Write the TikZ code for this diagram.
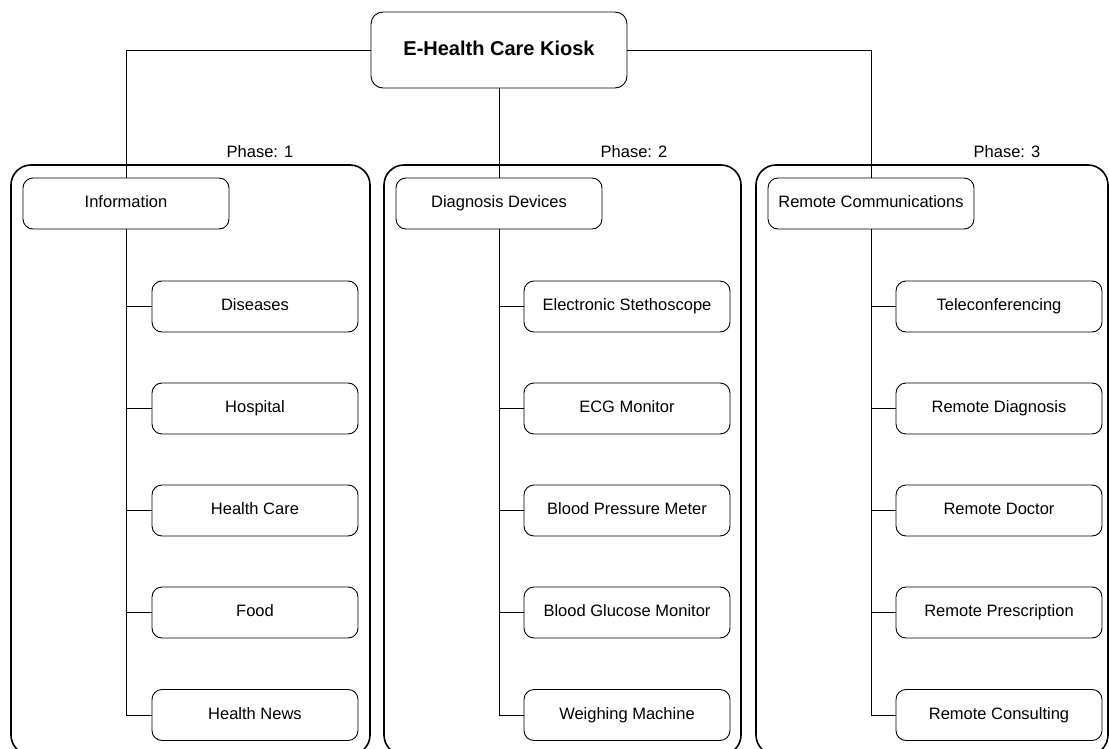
\documentclass[tikz,border=0pt]{standalone}
\usepackage{fontspec}
\setmainfont{Liberation Sans}
\usetikzlibrary{positioning}

\begin{document}
\begin{tikzpicture}[
    x=1pt, y=-1pt, line width=0.9pt,
    rootbox/.style={draw, rounded corners=12pt, minimum width=256pt,
                    minimum height=76pt, inner sep=0pt,
                    text height=14.5pt, text depth=4pt,
                    font=\fontsize{20}{24}\selectfont\bfseries},
    item/.style={draw, rounded corners=10pt, minimum width=206pt,
                 minimum height=51pt, inner sep=0pt,
                 text height=12pt, text depth=3.5pt,
                 font=\fontsize{16.5}{19}\selectfont},
    phasebox/.style={draw, line width=1.6pt, rounded corners=20pt},
    phaselbl/.style={font=\fontsize{16.5}{19}\selectfont}
  ]
  \useasboundingbox (0,0) rectangle (1109,749);

  % Phase containers
  \draw[phasebox] (11,165) rectangle (370,755);
  \draw[phasebox] (384,165) rectangle (741,755);
  \draw[phasebox] (756,165) rectangle (1108,755);
  \node[phaselbl] (ph1) at (260,152) {Phase: 1};
  \node[phaselbl] (ph2) at (634,152) {Phase: 2};
  \node[phaselbl] (ph3) at (1007,152) {Phase: 3};

  % Root
  \node[rootbox, fill=white] (kiosk) at (499,50) {E-Health Care Kiosk};

  % Phase 1: information
  \node[item, fill=white] (info) at (126,203.5) {Information};
  \node[item] (dis) at (255,306.5) {Diseases};
  \node[item] (hosp) at (255,408.5) {Hospital};
  \node[item] (hcare) at (255,510.5) {Health Care};
  \node[item] (food) at (255,612.5) {Food};
  \node[item] (hnews) at (255,715) {Health News};

  % Phase 2: diagnosis devices
  \node[item, fill=white] (diag) at (499,203.5) {Diagnosis Devices};
  \node[item] (steth) at (627,306.5) {Electronic Stethoscope};
  \node[item] (ecg) at (627,408.5) {ECG Monitor};
  \node[item] (bpm) at (627,510.5) {Blood Pressure Meter};
  \node[item] (bgm) at (627,612.5) {Blood Glucose Monitor};
  \node[item] (weigh) at (627,715) {Weighing Machine};

  % Phase 3: remote communications
  \node[item, fill=white] (remote) at (871,203.5) {Remote Communications};
  \node[item] (tele) at (999,306.5) {Teleconferencing};
  \node[item] (rdiag) at (999,408.5) {Remote Diagnosis};
  \node[item] (rdoc) at (999,510.5) {Remote Doctor};
  \node[item] (rpres) at (999,612.5) {Remote Prescription};
  \node[item] (rcons) at (999,715) {Remote Consulting};

  % Root to phases
  \draw (kiosk.west) -| (info.north);
  \draw (kiosk.south) -- (diag.north);
  \draw (kiosk.east) -| (remote.north);

  % Phase heads to their items
  \draw (info.south) |- (dis.west);
  \draw (info.south) |- (hosp.west);
  \draw (info.south) |- (hcare.west);
  \draw (info.south) |- (food.west);
  \draw (info.south) |- (hnews.west);

  \draw (diag.south) |- (steth.west);
  \draw (diag.south) |- (ecg.west);
  \draw (diag.south) |- (bpm.west);
  \draw (diag.south) |- (bgm.west);
  \draw (diag.south) |- (weigh.west);

  \draw (remote.south) |- (tele.west);
  \draw (remote.south) |- (rdiag.west);
  \draw (remote.south) |- (rdoc.west);
  \draw (remote.south) |- (rpres.west);
  \draw (remote.south) |- (rcons.west);
\end{tikzpicture}
\end{document}
